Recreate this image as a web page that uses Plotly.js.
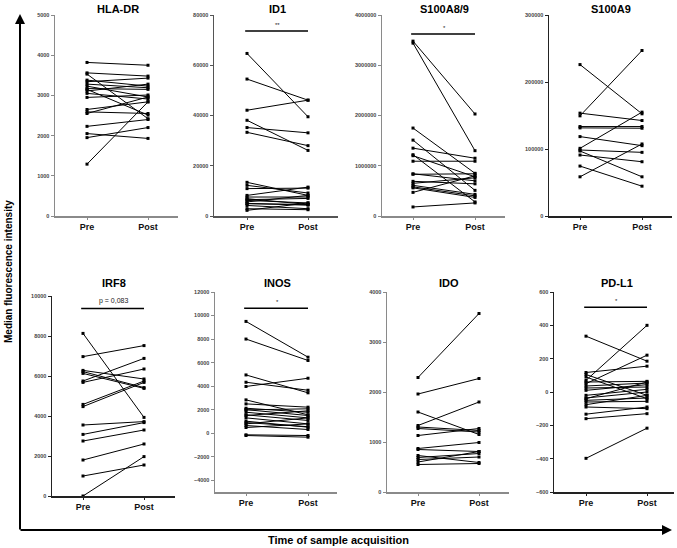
<!DOCTYPE html>
<html><head><meta charset="utf-8">
<script src="https://cdn.plot.ly/plotly-3.0.1.min.js"></script>
<style>html,body{margin:0;padding:0;background:#fff}#c{width:677px;height:548px}</style>
</head><body><div id="c"></div>
<script>
const xLabels = ['Pre', 'Post'];
const panelTitles = ['HLA-DR', 'ID1', 'S100A8/9', 'S100A9', 'IRF8', 'INOS', 'IDO', 'PD-L1'];

const hladrPre  = [3820, 3560, 3530, 3380, 3340, 3280, 3230, 3170, 3150, 3110, 3050, 2950, 2650, 2590, 2550, 2230, 2050, 1950, 1290];
const hladrPost = [3750, 3480, 2420, 3230, 3430, 3190, 2960, 3150, 2510, 3280, 2910, 3010, 2840, 2550, 2960, 2400, 1930, 2200, 2840];

const id1Pre  = [64700, 54500, 42100, 38100, 35200, 33300, 13400, 12200, 10900, 8200, 7550, 6900, 6500, 6200, 5600, 5000, 4900, 4200, 2900, 2250];
const id1Post = [39500, 46100, 46100, 26100, 33100, 28000, 8200, 9150, 11100, 11500, 7550, 4600, 7000, 5200, 8200, 4300, 4600, 2900, 2500, 5200];

const s100a89Pre  = [3480000, 3440000, 1750000, 1510000, 1350000, 1220000, 1200000, 1090000, 840000, 830000, 690000, 650000, 610000, 580000, 560000, 470000, 180000];
const s100a89Post = [2030000, 1300000, 850000, 510000, 1150000, 280000, 780000, 1090000, 700000, 840000, 640000, 760000, 430000, 400000, 370000, 800000, 260000];

const s100a9Pre  = [226000, 153500, 149500, 133500, 131500, 118500, 101000, 98500, 97000, 91000, 74500, 58500];
const s100a9Post = [152500, 142500, 247000, 133500, 131000, 105000, 155000, 95000, 58500, 81000, 44500, 107500];

const irf8Pre  = [8130, 6970, 6280, 6220, 6130, 5750, 5680, 4580, 4470, 3550, 3080, 2750, 1800, 1000, 0];
const irf8Post = [3930, 7520, 5850, 5420, 5380, 6880, 6350, 5750, 5680, 3720, 3670, 3300, 2600, 1550, 1970];

const inosPre  = [9500, 8000, 4950, 4330, 3970, 2830, 2490, 2120, 2000, 1980, 1780, 1560, 1500, 1300, 1020, 900, 790, 650, 480, -140, -200];
const inosPost = [6460, 6180, 3430, 3650, 4670, 1560, 2210, 1780, 1500, 2070, 1300, 1080, 1900, 790, 510, 550, 1300, 310, 790, -200, -340];

const idoPre  = [2290, 1960, 1600, 1330, 1300, 1270, 1130, 870, 850, 730, 690, 650, 600, 550];
const idoPost = [3570, 2270, 1150, 1800, 1230, 1200, 1270, 990, 810, 590, 770, 700, 810, 570];

const pdl1Pre  = [335, 117, 105, 90, 70, 60, 50, 36, 24, 10, -20, -36, -40, -50, -60, -76, -90, -133, -160, -398];
const pdl1Post = [185, 155, -20, -40, 400, 64, 221, 54, 30, 44, 16, 0, 60, -36, -56, -20, -100, -90, -130, -217];

const preSeries  = [hladrPre, id1Pre, s100a89Pre, s100a9Pre, irf8Pre, inosPre, idoPre, pdl1Pre];
const postSeries = [hladrPost, id1Post, s100a89Post, s100a9Post, irf8Post, inosPost, idoPost, pdl1Post];

const yRanges = [[0,5000],[0,80000],[0,4000000],[0,300000],[0,10000],[-5000,12000],[0,4000],[-600,600]];
const yDticks = [1000, 20000, 1000000, 100000, 2000, 2000, 1000, 200];

// significance labels
const sigPanels = [1, 2, 4, 5, 7];
const sigTexts  = ['**', '*', 'p = 0,083', '*', '*'];
const sigLevels = [73600, 3620000, 9380, 10620, 508];

// layout geometry (pixels)
const W = 677, H = 548;
const yAxisPx = [55, 214, 382, 549, 52, 215, 387, 554];
const prePx   = [87, 247, 413, 580, 83, 246, 418, 586];
const postPx  = [148, 308, 475, 642, 144, 308, 479, 647];
const endPx   = [178, 338, 505, 672, 175, 337, 509, 674];
const yTopPx  = [15, 15, 15, 15, 296, 292, 292, 292];
const yBotPx  = [216, 216, 216, 216, 496, 492, 492, 492];
const axisCol = ['#8a8a8a', '#555', '#8a8a8a', '#222', '#222', '#8a8a8a', '#8a8a8a', '#222'];

const traces = [];
const layout = {
  width: W, height: H, margin: {l:0, r:0, t:0, b:0},
  paper_bgcolor: '#fff', plot_bgcolor: '#fff', showlegend: false,
  font: {family: 'Liberation Sans, Arial, sans-serif', color: '#000'},
  annotations: [], shapes: []
};

for (let i = 0; i < 8; i++) {
  const n = i + 1;
  const xs = [], ys = [];
  preSeries[i].forEach((v, k) => { xs.push(0, 1, null); ys.push(v, postSeries[i][k], null); });
  traces.push({
    type: 'scatter', mode: 'lines+markers', x: xs, y: ys,
    xaxis: 'x' + n, yaxis: 'y' + n, hoverinfo: 'skip',
    line: {color: '#000', width: 1},
    marker: {color: '#000', size: 3, symbol: 'square'}
  });
  const sp = postPx[i] - prePx[i];
  const xr = [(yAxisPx[i] - prePx[i]) / sp, (endPx[i] - prePx[i]) / sp];
  const sfx = n === 1 ? '' : n;
  layout['xaxis' + sfx] = {
    domain: [yAxisPx[i] / W, endPx[i] / W], range: xr, anchor: 'y' + n,
    tickmode: 'array', tickvals: [0, 1], ticktext: xLabels,
    ticks: 'outside', ticklen: 2, tickcolor: axisCol[i],
    showline: true, linecolor: axisCol[i], linewidth: 1.5,
    showgrid: false, zeroline: false, fixedrange: true,
    tickfont: {size: 9, weight: 'bold', color: '#111'}
  };
  layout['yaxis' + sfx] = {
    domain: [1 - yBotPx[i] / H, 1 - yTopPx[i] / H], range: yRanges[i], anchor: 'x' + n,
    tick0: 0, dtick: yDticks[i], tickformat: 'd',
    ticks: 'outside', ticklen: 3, tickcolor: axisCol[i],
    showline: true, linecolor: axisCol[i], linewidth: 1.5,
    showgrid: false, zeroline: false, fixedrange: true,
    tickfont: {size: 5.5, weight: 'bold', color: '#444'}
  };
  const titleY = i < 4 ? 9 : 283;
  layout.annotations.push({
    xref: 'paper', yref: 'paper', x: ((prePx[i] + postPx[i]) / 2) / W, y: 1 - titleY / H,
    text: '<b>' + panelTitles[i] + '</b>', showarrow: false,
    font: {size: 11, color: '#000'}, xanchor: 'center', yanchor: 'middle'
  });
}

sigPanels.forEach((p, j) => {
  const n = p + 1;
  layout.shapes.push({
    type: 'line', xref: 'x' + n, yref: 'y' + n,
    x0: -0.03, x1: 1.0, y0: sigLevels[j], y1: sigLevels[j],
    line: {color: '#000', width: 1.5}
  });
  layout.annotations.push({
    xref: 'x' + n, yref: 'y' + n, x: 0.5, y: sigLevels[j],
    text: sigTexts[j], showarrow: false, yanchor: 'bottom', yshift: 1,
    font: {size: sigTexts[j].length > 2 ? 7 : 6, color: '#222'}
  });
});

// Big arrows and overall labels
layout.annotations.push({
  xref: 'paper', yref: 'paper', x: 20 / W, y: 1 - 14 / H, ax: 0, ay: 517,
  showarrow: true, arrowhead: 2, arrowsize: 1, arrowwidth: 2, arrowcolor: '#000', text: ''
});
layout.annotations.push({
  xref: 'paper', yref: 'paper', x: 672 / W, y: 1 - 530 / H, ax: -653, ay: 0,
  showarrow: true, arrowhead: 2, arrowsize: 1, arrowwidth: 2, arrowcolor: '#000', text: ''
});
layout.annotations.push({
  xref: 'paper', yref: 'paper', x: 8 / W, y: 1 - 272 / H, textangle: -90,
  text: '<b>Median fluorescence intensity</b>', showarrow: false,
  font: {size: 10, color: '#000'}, xanchor: 'center', yanchor: 'middle'
});
layout.annotations.push({
  xref: 'paper', yref: 'paper', x: 338 / W, y: 1 - 540 / H,
  text: '<b>Time of sample acquisition</b>', showarrow: false,
  font: {size: 11, color: '#000'}, xanchor: 'center', yanchor: 'middle'
});

Plotly.newPlot('c', traces, layout, {staticPlot: true, displayModeBar: false});
</script>
</body></html>
